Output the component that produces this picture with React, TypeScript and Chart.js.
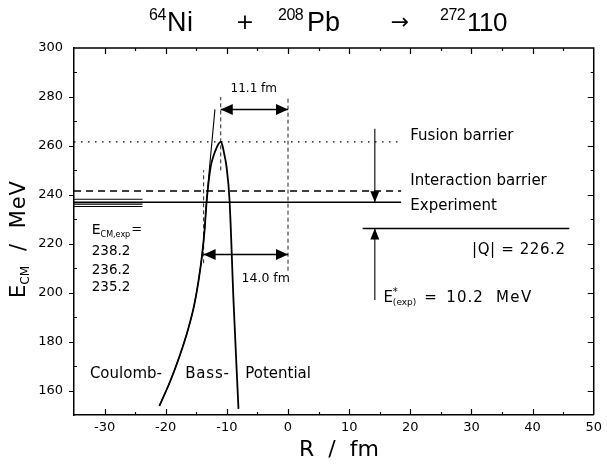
import React, { useEffect, useRef } from 'react';
import { Chart, registerables } from 'chart.js';

Chart.register(...registerables);

const FONT = '"DejaVu Sans", sans-serif';
const TFONT = '"Liberation Sans", Arial, sans-serif';

// Axis ranges / ticks
const xRange = [-35, 50];
const yRange = [150, 300];
const xStep = 5;
const yStep = 10;

// Bass potential (nuclear + Coulomb)  R [fm] vs E_CM [MeV]
const bassR = [-21.04, -19.25, -17.71, -16.41, -15.36, -14.63, -14.06, -13.65, -13.36, -13.1, -12.65, -12.2, -11.74, -11.35, -10.97, -10.7, -10.44, -10.05, -9.56, -8.9, -8.1];
const bassE = [153.7, 163.9, 174.2, 184.4, 194.7, 204.9, 215.2, 225.4, 235.7, 242.6, 251.4, 255.8, 258.9, 260.9, 261.6, 259.9, 256.8, 251.4, 237.7, 196.0, 152.5];

// Pure Coulomb potential
const coulR = [-21.04, -19.25, -17.71, -16.41, -15.36, -14.63, -14.06, -13.65, -13.36, -11.95];
const coulE = [153.7, 163.9, 174.2, 184.4, 194.7, 204.9, 215.2, 225.4, 235.7, 274.9];

// Energy levels
const levelNames = ['Fusion barrier', 'Interaction barrier', 'Experiment'];
const levelE = [261.6, 241.6, 237.0];
const levelR = [-35, 18.5];

// Experimental E_CM values
const expE = [238.2, 236.2, 235.2];
const expR = [-35, -23.8];

// Q value line
const qValue = 226.2;
const qR = [12.2, 46.0];

// Excitation energy arrows
const eStar = 10.2;
const arrowR = 14.2;
const downArrowE = [267.0, 237.0];
const upArrowE = [197.0, 226.2];

// Distance arrows
const distLabels = ['11.1 fm', '14.0 fm'];
const distFromR = [-11.0, -13.8];
const distToR = [0, 0];
const distE = [274.9, 215.6];

// Vertical guide lines
const guideR = [-11.0, 0, -13.8];
const guideFromE = [250, 209, 212];
const guideToE = [280, 280, 250];

const pts = (xs: number[], ys: number[]) => xs.map((x, i) => ({ x, y: ys[i] }));

const BLACK = '#000';

function buildDatasets() {
  const ds: any[] = [];
  const base = { showLine: true, pointRadius: 0, borderColor: BLACK, backgroundColor: BLACK, fill: false };
  ds.push({ ...base, label: 'Bass', data: pts(bassR, bassE), borderWidth: 1.8, cubicInterpolationMode: 'monotone' });
  ds.push({ ...base, label: 'Coulomb', data: pts(coulR, coulE), borderWidth: 1.1, cubicInterpolationMode: 'monotone' });
  const dashes = [[1.5, 5.5], [7, 5], []];
  levelE.forEach((e, i) => {
    ds.push({ ...base, label: levelNames[i], data: pts(levelR, [e, e]), borderWidth: i === 0 ? 1.3 : 1.5, borderDash: dashes[i] });
  });
  expE.forEach((e) => {
    ds.push({ ...base, label: 'exp ' + e, data: pts(expR, [e, e]), borderWidth: 1.1 });
  });
  ds.push({ ...base, label: 'Q', data: pts(qR, [qValue, qValue]), borderWidth: 1.5 });
  ds.push({ ...base, label: 'down', data: pts([arrowR, arrowR], downArrowE), borderWidth: 1.1 });
  ds.push({ ...base, label: 'up', data: pts([arrowR, arrowR], upArrowE), borderWidth: 1.1 });
  distLabels.forEach((l, i) => {
    ds.push({ ...base, label: l, data: pts([distFromR[i], distToR[i]], [distE[i], distE[i]]), borderWidth: 1.5 });
  });
  guideR.forEach((r, i) => {
    ds.push({ ...base, label: 'guide' + i, data: pts([r, r], [guideFromE[i], guideToE[i]]), borderWidth: 1, borderDash: [4, 3], borderColor: '#222' });
  });
  return ds;
}

function head(ctx: CanvasRenderingContext2D, x: number, y: number, dx: number, dy: number, len: number, half: number) {
  const bx = x - dx * len;
  const by = y - dy * len;
  ctx.beginPath();
  ctx.moveTo(x, y);
  ctx.lineTo(bx - dy * half, by + dx * half);
  ctx.lineTo(bx + dy * half, by - dx * half);
  ctx.closePath();
  ctx.fill();
}

function text(ctx: CanvasRenderingContext2D, s: string, x: number, y: number, size: number, align: CanvasTextAlign = 'left', spacing = 0, family = FONT) {
  ctx.font = `${size}px ${family}`;
  ctx.textAlign = align;
  ctx.textBaseline = 'alphabetic';
  (ctx as any).letterSpacing = spacing + 'px';
  ctx.fillText(s, x, y);
  const w = ctx.measureText(s).width;
  (ctx as any).letterSpacing = '0px';
  return w;
}

const annotPlugin = {
  id: 'annot',
  afterDraw(chart: any) {
    const { ctx, chartArea: a, scales } = chart;
    const X = (v: number) => scales.x.getPixelForValue(v);
    const Y = (v: number) => scales.y.getPixelForValue(v);
    ctx.save();
    ctx.strokeStyle = BLACK;
    ctx.fillStyle = BLACK;
    // frame top / right
    ctx.lineWidth = 1.5;
    ctx.beginPath();
    ctx.moveTo(a.left, a.top);
    ctx.lineTo(a.right, a.top);
    ctx.lineTo(a.right, a.bottom);
    ctx.stroke();
    // inward ticks
    ctx.lineWidth = 1.2;
    ctx.beginPath();
    scales.x.ticks.forEach((t: any) => {
      if (t.value <= xRange[0] || t.value >= xRange[1]) return;
      const len = t.value % 10 === 0 ? 6 : 3;
      const px = Math.round(X(t.value)) + 0.5;
      ctx.moveTo(px, a.bottom); ctx.lineTo(px, a.bottom - len);
      ctx.moveTo(px, a.top); ctx.lineTo(px, a.top + len);
    });
    scales.y.ticks.forEach((t: any) => {
      if (t.value <= yRange[0] || t.value >= yRange[1]) return;
      const major = t.value % 20 === 0;
      const len = major ? 6 : 3;
      const py = Math.round(Y(t.value)) + 0.5;
      if (major) { ctx.moveTo(a.left - 5, py); ctx.lineTo(a.left, py); }
      else { ctx.moveTo(a.left, py); ctx.lineTo(a.left + 3, py); }
      ctx.moveTo(a.right, py); ctx.lineTo(a.right - len, py);
    });
    ctx.stroke();

    // arrowheads: distance arrows
    distLabels.forEach((_, i) => {
      const y = Y(distE[i]);
      head(ctx, X(distFromR[i]), y, -1, 0, 12, 5.5);
      head(ctx, X(distToR[i]), y, 1, 0, 12, 5.5);
    });
    // excitation arrows
    head(ctx, X(arrowR), Y(downArrowE[1]), 0, 1, 11, 4.5);
    head(ctx, X(arrowR), Y(upArrowE[1]), 0, -1, 11, 4.5);

    // distance labels
    text(ctx, distLabels[0], X(-5.6), Y(282.1), 12, 'center');
    text(ctx, distLabels[1], X(-7.6), Y(204.2), 12.5, 'left');

    // level labels
    const lx = X(20.0);
    text(ctx, levelNames[0], lx, Y(262.3), 15);
    text(ctx, levelNames[1], lx, Y(243.9), 15);
    text(ctx, levelNames[2], lx, Y(233.6), 15);

    // |Q|
    text(ctx, '|Q| = ' + qValue.toFixed(1), X(30.1), Y(215.6), 15, 'left', 0.6);

    // E*(exp)
    let ex = X(15.6);
    const ey = Y(196.3);
    ex += text(ctx, 'E', ex, ey, 15);
    text(ctx, '*', ex, ey - 7, 10);
    text(ctx, '(exp)', ex, ey + 3, 9);
    text(ctx, '=', X(22.3), ey, 15);
    text(ctx, eStar.toFixed(1), X(25.9), ey, 15, 'left', 1);
    text(ctx, 'MeV', X(34.0), ey, 15, 'left', 1.5);

    // E_CM,exp =
    let cx = X(-32.1);
    const cy = Y(223.8);
    cx += text(ctx, 'E', cx, cy, 14);
    cx += text(ctx, 'CM,exp', cx, cy + 3, 8);
    text(ctx, '=', cx + 1, cy - 1, 13);
    expE.forEach((e, i) => {
      text(ctx, e.toFixed(1), X(-32.1), Y([215.2, 207.7, 200.5][i]), 13.5);
    });

    // Coulomb- Bass- Potential
    const by = Y(165.3);
    text(ctx, 'Coulomb-', X(-32.4), by, 15);
    text(ctx, 'Bass-', X(-16.8), by, 15, 'left', 0.8);
    text(ctx, 'Potential', X(-7.0), by, 15);

    // title
    text(ctx, '64', 149, 20, 16, 'left', -0.5, TFONT);
    text(ctx, 'Ni', 167, 31, 27, 'left', 0.5, TFONT);
    text(ctx, '+', 245, 29, 22, 'center');
    text(ctx, '208', 278, 20, 16, 'left', -0.5, TFONT);
    text(ctx, 'Pb', 307, 31, 27, 'left', 0, TFONT);
    text(ctx, '\u2192', 400, 29, 22, 'center');
    text(ctx, '272', 440, 20, 16, 'left', -0.5, TFONT);
    text(ctx, '110', 467, 31, 26, 'left', -0.5, TFONT);

    // x title
    text(ctx, 'R  /  fm', 339, 456, 22, 'center');

    // y title (rotated)
    ctx.save();
    ctx.translate(25, 298);
    ctx.rotate(-Math.PI / 2);
    let tx = 0;
    tx += text(ctx, 'E', tx, 0, 21);
    tx += text(ctx, 'CM', tx, 4, 12);
    tx += text(ctx, '  /  MeV', tx, 0, 21, 'left', 0.8);
    ctx.restore();

    ctx.restore();
  },
};

export default function App() {
  const ref = useRef<HTMLCanvasElement | null>(null);
  useEffect(() => {
    if (!ref.current) return;
    const chart = new Chart(ref.current, {
      type: 'scatter',
      data: { datasets: buildDatasets() },
      options: {
        animation: false,
        responsive: false,
        events: [],
        layout: { padding: { left: 0, right: 9, top: 48, bottom: 0 } },
        plugins: { legend: { display: false }, tooltip: { enabled: false }, title: { display: false } },
        elements: { line: { tension: 0 } },
        scales: {
          x: {
            type: 'linear',
            min: xRange[0],
            max: xRange[1],
            afterFit: (s: any) => { s.height = 50; },
            grid: { display: false, drawTicks: false },
            border: { display: true, color: BLACK, width: 1.5 },
            ticks: {
              stepSize: xStep,
              autoSkip: false,
              maxRotation: 0,
              padding: 5,
              color: BLACK,
              font: { family: FONT, size: 13 },
              callback: (v: any) => (Number(v) % 10 === 0 ? String(v) : ''),
            },
          },
          y: {
            type: 'linear',
            min: yRange[0],
            max: yRange[1],
            afterFit: (s: any) => { s.width = 74; },
            grid: { display: false, drawTicks: false },
            border: { display: true, color: BLACK, width: 1.5 },
            ticks: {
              stepSize: yStep,
              autoSkip: false,
              padding: 11,
              color: BLACK,
              font: { family: FONT, size: 13 },
              callback: (v: any) => (Number(v) % 20 === 0 ? String(v) : ''),
            },
          },
        },
      },
      plugins: [annotPlugin],
    } as any);
    return () => chart.destroy();
  }, []);
  return (
    <div style={{ position: 'fixed', left: 0, top: 0, width: 607, height: 465, background: '#fff' }}>
      <canvas ref={ref} width={607} height={465} style={{ display: 'block', width: 607, height: 465 }} />
    </div>
  );
}
